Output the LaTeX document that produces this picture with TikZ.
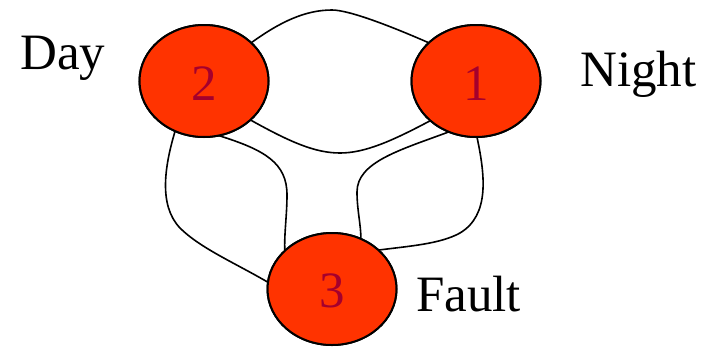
\documentclass[tikz,border=0pt]{standalone}
\usepackage{fontspec}
\setmainfont{Liberation Serif}
\usetikzlibrary{shapes.geometric}
\definecolor{statefill}{RGB}{255,51,0}
\definecolor{statenum}{RGB}{165,0,45}
\tikzset{
  statenode/.style={ellipse, draw=black, line width=2pt, fill=statefill,
    minimum width=129pt, minimum height=112pt, inner sep=0pt, outer sep=0pt},
  numtext/.style={text=statenum, font=\fontsize{51}{60}\selectfont, inner sep=0pt},
  tagtext/.style={text=black, font=\fontsize{51}{60}\selectfont, inner sep=0pt, anchor=base west},
  link/.style={draw=black, line width=1.6pt}
}
\begin{document}
\begin{tikzpicture}[x=1pt, y=-1pt]
\useasboundingbox (0,0) rectangle (715,346);
% states
\node[statenode] (n2) at (204,81) {};
\node[statenode] (n1) at (476,81) {};
\node[statenode] (n3) at (332,289) {};
% transitions between the states
\draw[link] (n2.39) .. controls (280,22) and (305,10) .. (332,10)
  .. controls (350,10) and (395,28) .. (n1.141);
\draw[link] (n2.-40) .. controls (290,142) and (315,153) .. (340,153)
  .. controls (365,153) and (392,141) .. (n1.-139);
\draw[link] (n2.-75) .. controls (265,150) and (287,163) .. (287,195)
  .. controls (287,215) and (284,235) .. (n3.141);
\draw[link] (n2.-120) .. controls (165,165) and (158,205) .. (180,228)
  .. controls (200,248) and (235,263) .. (n3.174);
\draw[link] (n1.-118) .. controls (400,150) and (357,162) .. (357,192)
  .. controls (357,210) and (361,225) .. (n3.60);
\draw[link] (n1.-89) .. controls (485,175) and (490,215) .. (460,233)
  .. controls (440,244) and (410,246) .. (n3.40);
% redraw the ellipses on top so the line ends tuck under the borders
\node[statenode] at (n2) {};
\node[statenode] at (n1) {};
\node[statenode] at (n3) {};
% state numbers
\node[numtext] (t2) at ([yshift=-2.5pt]n2.center) {2};
\node[numtext] (t1) at ([yshift=-2.5pt]n1.center) {1};
\node[numtext] (t3) at ([yshift=-2pt]n3.center) {3};
% state names
\node[tagtext] (day) at (20,69.5) {Day};
\node[tagtext] (night) at (580,86.7) {Night};
\node[tagtext] (fault) at (416,311.7) {Fault};
\end{tikzpicture}
\end{document}
